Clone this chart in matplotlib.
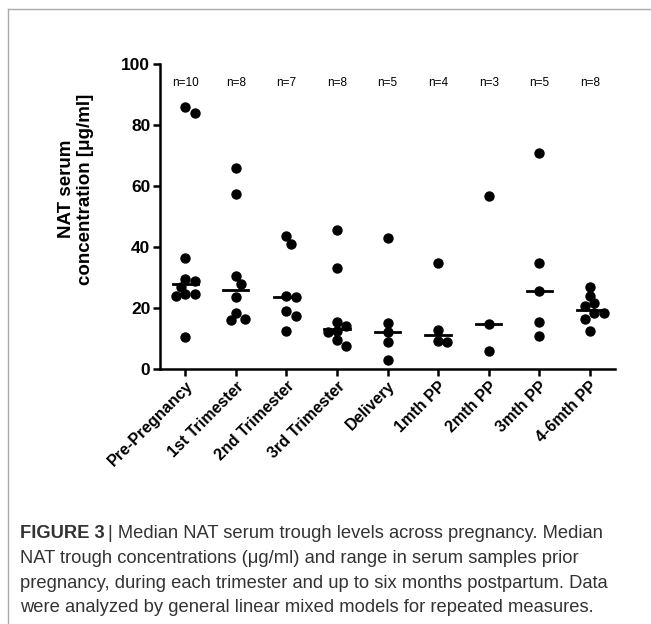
import matplotlib
matplotlib.use("Agg")
import matplotlib.pyplot as plt
import numpy as np
from matplotlib.lines import Line2D

plt.rcParams['font.family'] = ['Liberation Sans', 'DejaVu Sans']

categories = ["Pre-Pregnancy", "1st Trimester", "2nd Trimester", "3rd Trimester",
              "Delivery", "1mth PP", "2mth PP", "3mth PP", "4-6mth PP"]

# NAT serum concentrations (ug/ml) per time point
pre_preg = [86, 84, 36.5, 29.5, 29, 27, 24.5, 24.5, 24, 10.5]
trim_1 = [66, 57.5, 30.5, 28, 23.5, 18.5, 16.5, 16]
trim_2 = [43.5, 41, 24, 23.5, 19, 17.5, 12.5]
trim_3 = [45.5, 33, 15.5, 14, 12.5, 12, 9.5, 7.5]
delivery = [43, 15, 12.2, 9, 3]
pp_1 = [34.6, 12.8, 9.3, 9]
pp_2 = [56.8, 14.8, 6]
pp_3 = [70.9, 34.6, 25.6, 15.3, 10.8]
pp_4_6 = [26.8, 24, 21.5, 20.5, 18.5, 18.5, 16.5, 12.5]

groups = [pre_preg, trim_1, trim_2, trim_3, delivery, pp_1, pp_2, pp_3, pp_4_6]


def swarm(vals, dot, yscale):
    # simple beeswarm: place each point at the closest free offset
    placed = []
    offs = []
    cands = [0]
    for i in range(1, 10):
        cands += [i, -i]
    for v in vals:
        for c in cands:
            x = c * dot * 0.55
            ok = all((x - px) ** 2 + ((v - py) * yscale) ** 2 >= dot ** 2 for px, py in placed)
            if ok:
                break
        placed.append((x, v))
        offs.append(x)
    return offs


fig = plt.figure(figsize=(6.51, 6.24), dpi=100)
ax = fig.add_axes([0.2458, 0.4087, 0.699, 0.4887])

# px per data unit: x ~50.5 px per category, y ~3.05 px per ug/ml
dot_px = 8.5
for i, g in enumerate(groups):
    offs = swarm(g, dot_px / 50.5, 3.05 / 50.5)
    ax.scatter(i + np.array(offs), g, s=42, color='black', zorder=3, clip_on=False)
    med = np.median(g)
    ax.plot([i - 0.25, i + 0.25], [med, med], color='black', lw=2, zorder=4)
    ax.text(i, 93.8, "n=%d" % len(g), ha='center', va='center', fontsize=8.5)

ax.set_xlim(-0.5, 8.5)
ax.set_ylim(0, 100)
ax.set_xticks(range(len(categories)))
ax.set_xticklabels(categories, rotation=45, ha='right', rotation_mode='anchor',
                   fontsize=11.5, fontweight='bold')
ax.set_yticks(range(0, 101, 20))
ax.set_yticklabels([str(v) for v in range(0, 101, 20)], fontsize=12.5, fontweight='bold')
ax.tick_params(width=1.8, length=5, pad=2)
for s in ['top', 'right']:
    ax.spines[s].set_visible(False)
for s in ['left', 'bottom']:
    ax.spines[s].set_linewidth(1.8)
ax.set_ylabel("NAT serum\nconcentration [\u03bcg/ml]", fontsize=13.5, fontweight='bold',
              va='center', linespacing=1.15)
ax.yaxis.set_label_coords(-0.185, 0.59)

# figure frame
fig.add_artist(Line2D([8 / 651, 8 / 651], [0, 1 - 9 / 624], color='#aaaaaa', lw=1))
fig.add_artist(Line2D([8 / 651, 1], [1 - 9 / 624, 1 - 9 / 624], color='#aaaaaa', lw=1))

# caption
cap_col = '#333333'
cap_fs = 13.2
t = fig.text(20 / 651, 1 - 534 / 624, "FIGURE 3", fontsize=cap_fs, fontweight='bold',
             color=cap_col, va='center')
fig.canvas.draw()
bb = t.get_window_extent()
fig.text(bb.x1 / 651 + 0.005, 1 - 534 / 624,
         "| Median NAT serum trough levels across pregnancy. Median",
         fontsize=cap_fs, color=cap_col, va='center')
lines = ["NAT trough concentrations (\u03bcg/ml) and range in serum samples prior",
         "pregnancy, during each trimester and up to six months postpartum. Data",
         "were analyzed by general linear mixed models for repeated measures."]
for k, ln in enumerate(lines):
    fig.text(20 / 651, 1 - (558.5 + 24.5 * k) / 624, ln, fontsize=cap_fs, color=cap_col,
             va='center')

fig.savefig("out.png", dpi=100)
